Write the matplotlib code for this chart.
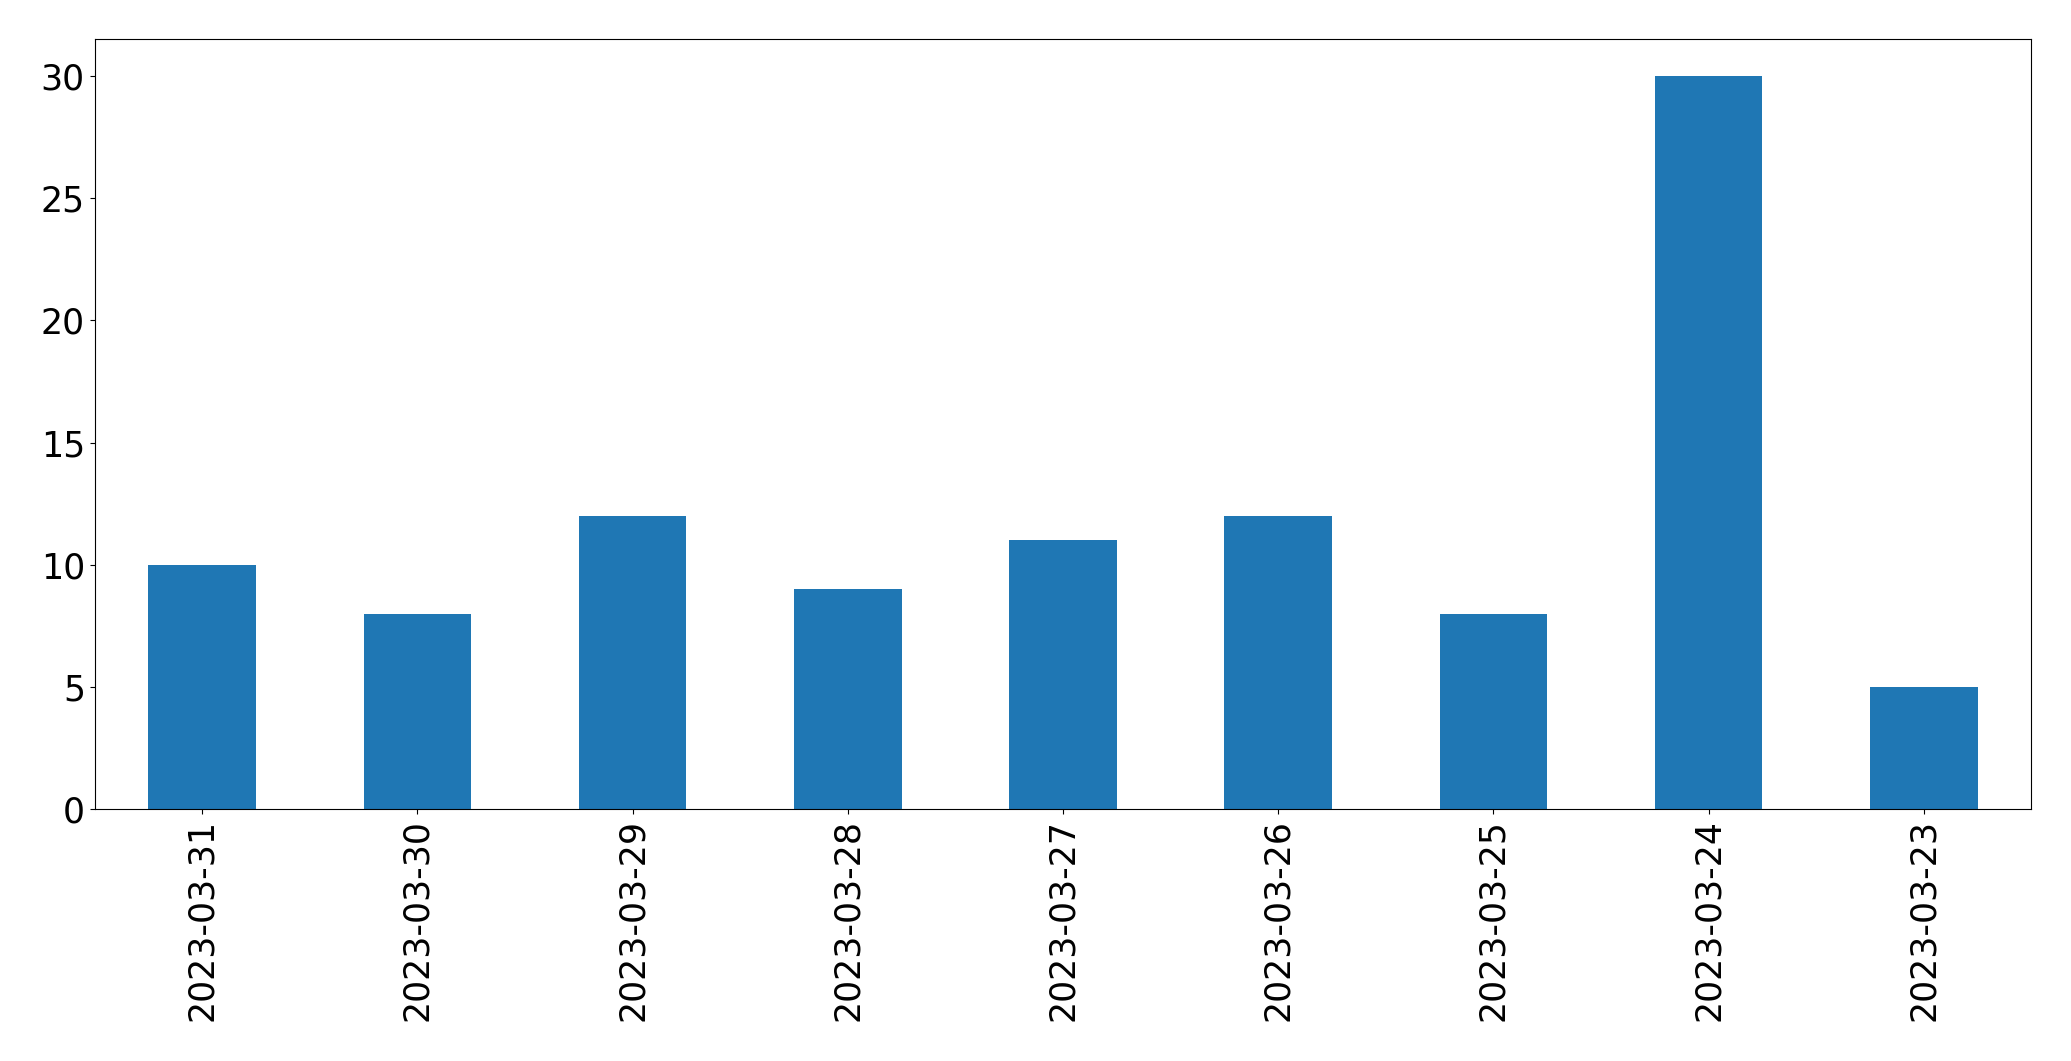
import matplotlib
matplotlib.use("Agg")
import matplotlib.pyplot as plt

# Data
dates = ['2023-03-31', '2023-03-30', '2023-03-29', '2023-03-28', '2023-03-27',
         '2023-03-26', '2023-03-25', '2023-03-24', '2023-03-23']
counts = [10, 8, 12, 9, 11, 12, 8, 30, 5]

fig = plt.figure(figsize=(20.71, 10.61), dpi=100)
ax = fig.add_axes([0.0457, 0.2372, 0.9352, 0.7258])

x = range(len(dates))
ax.bar(x, counts, width=0.5, color='#1f77b4')
ax.set_xticks(list(x))
ax.set_xticklabels(dates, rotation=90)
ax.set_xlim(-0.5, len(dates) - 0.5)
ax.set_ylim(0, 31.5)
ax.tick_params(labelsize=25)

fig.savefig('out.png', dpi=100)
